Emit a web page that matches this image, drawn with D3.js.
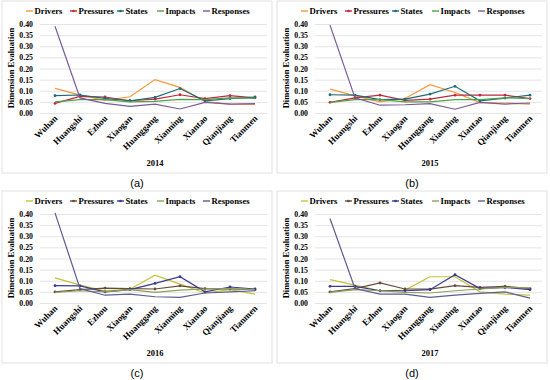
<!DOCTYPE html>
<html>
<head>
<meta charset="utf-8">
<script src="https://cdn.jsdelivr.net/npm/d3@7"></script>
<style>
  body { margin: 0; background: #fff; }
</style>
</head>
<body>
<script>
// cities along x axis
var cities = ["Wuhan", "Huangshi", "Ezhou", "Xiaogan", "Huanggang", "Xianning", "Xiantao", "Qianjiang", "Tianmen"];
var seriesNames = ["Drivers", "Pressures", "States", "Impacts", "Responses"];
var yTicks = [0, 0.05, 0.10, 0.15, 0.20, 0.25, 0.30, 0.35, 0.40];
var years = ["2014", "2015", "2016", "2017"];
var captions = ["(a)", "(b)", "(c)", "(d)"];

// values, one array per series per year
var drivers2014 = [0.111, 0.080, 0.057, 0.073, 0.150, 0.115, 0.051, 0.040, 0.039];
var pressures2014 = [0.043, 0.075, 0.072, 0.055, 0.062, 0.082, 0.065, 0.078, 0.068];
var states2014 = [0.078, 0.081, 0.066, 0.055, 0.070, 0.110, 0.055, 0.065, 0.072];
var impacts2014 = [0.050, 0.060, 0.060, 0.050, 0.052, 0.061, 0.060, 0.068, 0.066];
var responses2014 = [0.390, 0.068, 0.043, 0.030, 0.040, 0.018, 0.048, 0.040, 0.042];

var drivers2015 = [0.107, 0.077, 0.050, 0.065, 0.127, 0.092, 0.047, 0.045, 0.040];
var pressures2015 = [0.048, 0.068, 0.080, 0.057, 0.062, 0.080, 0.080, 0.080, 0.065];
var states2015 = [0.082, 0.080, 0.060, 0.062, 0.085, 0.120, 0.055, 0.067, 0.080];
var impacts2015 = [0.048, 0.060, 0.060, 0.050, 0.050, 0.060, 0.060, 0.068, 0.065];
var responses2015 = [0.395, 0.068, 0.035, 0.037, 0.042, 0.017, 0.048, 0.040, 0.045];

var drivers2016 = [0.113, 0.080, 0.055, 0.062, 0.125, 0.085, 0.045, 0.060, 0.040];
var pressures2016 = [0.050, 0.060, 0.067, 0.065, 0.063, 0.077, 0.065, 0.063, 0.060];
var states2016 = [0.078, 0.077, 0.050, 0.060, 0.088, 0.118, 0.050, 0.072, 0.063];
var impacts2016 = [0.048, 0.055, 0.050, 0.060, 0.048, 0.058, 0.063, 0.065, 0.060];
var responses2016 = [0.405, 0.065, 0.035, 0.040, 0.028, 0.025, 0.045, 0.050, 0.055];

var drivers2017 = [0.105, 0.080, 0.055, 0.058, 0.118, 0.118, 0.050, 0.040, 0.035];
var pressures2017 = [0.050, 0.065, 0.090, 0.063, 0.062, 0.078, 0.070, 0.075, 0.065];
var states2017 = [0.075, 0.075, 0.055, 0.055, 0.060, 0.127, 0.065, 0.070, 0.060];
var impacts2017 = [0.048, 0.060, 0.055, 0.048, 0.045, 0.055, 0.063, 0.070, 0.068];
var responses2017 = [0.380, 0.065, 0.040, 0.040, 0.025, 0.035, 0.043, 0.050, 0.022];

var panelData = [
  [drivers2014, pressures2014, states2014, impacts2014, responses2014],
  [drivers2015, pressures2015, states2015, impacts2015, responses2015],
  [drivers2016, pressures2016, states2016, impacts2016, responses2016],
  [drivers2017, pressures2017, states2017, impacts2017, responses2017]
];

// two colour sets: top row and bottom row
var colorsTop = ["#f5973a", "#c0283f", "#1d6a78", "#4ea34a", "#7a5a98"];
var colorsBottom = ["#c4c23a", "#6b4a3c", "#3b3a8c", "#8aa25a", "#5c5c92"];
var hasMarker = [false, true, true, false, false];

var serif = "'Liberation Serif', 'Times New Roman', serif";

var svg = d3.select("body").append("svg")
    .attr("width", 550)
    .attr("height", 380)
    .attr("font-family", serif);

var x = d3.scalePoint().domain(cities).range([55, 255]);
var y = d3.scaleLinear().domain([0, 0.4]).range([113, 24]);

var legendX = [26, 70, 117, 157, 203];

panelData.forEach(function(series, i) {
  var px = (i % 2) * 275, py = Math.floor(i / 2) * 190;
  var colors = i < 2 ? colorsTop : colorsBottom;
  var g = svg.append("g").attr("transform", "translate(" + px + "," + py + ")");

  g.append("rect")
    .attr("x", 2).attr("y", 1)
    .attr("width", 270).attr("height", 172)
    .attr("fill", "#fff")
    .attr("stroke", "#d9d9d9")
    .attr("stroke-width", 0.8);

  // gridlines + y labels
  var yAxis = g.append("g")
    .attr("transform", "translate(40,0)")
    .call(d3.axisLeft(y).tickValues(yTicks).tickFormat(d3.format(".2f")).tickSize(-227).tickPadding(7));
  yAxis.attr("font-family", serif).attr("font-size", null);
  yAxis.select(".domain").remove();
  yAxis.selectAll("line").attr("stroke", "#d9d9d9").attr("stroke-width", 0.7);
  yAxis.selectAll("text")
    .attr("font-size", "7.8px").attr("font-weight", "bold").attr("fill", "#000");

  // x labels, rotated
  g.append("g").selectAll("text")
    .data(cities)
    .enter().append("text")
    .attr("transform", function(d) { return "translate(" + (x(d) + 3) + ",119) rotate(-45)"; })
    .attr("text-anchor", "end")
    .attr("font-size", "9px")
    .attr("font-weight", "bold")
    .text(function(d) { return d; });

  g.append("text")
    .attr("x", 155).attr("y", 166)
    .attr("text-anchor", "middle")
    .attr("font-size", "8.5px").attr("font-weight", "bold")
    .text(years[i]);

  g.append("text")
    .attr("transform", "translate(14,68) rotate(-90)")
    .attr("text-anchor", "middle")
    .attr("font-size", "8.5px").attr("font-weight", "bold")
    .text("Dimension Evaluation");

  var line = d3.line()
    .x(function(d, j) { return x(cities[j]); })
    .y(function(d) { return y(d); });

  series.forEach(function(vals, k) {
    g.append("path")
      .datum(vals)
      .attr("fill", "none")
      .attr("stroke", colors[k])
      .attr("stroke-width", 1.2)
      .attr("d", line);
    if (hasMarker[k]) {
      g.append("g").selectAll("circle")
        .data(vals)
        .enter().append("circle")
        .attr("cx", function(d, j) { return x(cities[j]); })
        .attr("cy", function(d) { return y(d); })
        .attr("r", 1.4)
        .attr("fill", colors[k]);
    }
  });

  // legend
  var leg = g.append("g").attr("class", "legend");
  seriesNames.forEach(function(name, k) {
    var lx = legendX[k];
    leg.append("line")
      .attr("x1", lx).attr("x2", lx + 7)
      .attr("y1", 11).attr("y2", 11)
      .attr("stroke", colors[k]).attr("stroke-width", 1.4);
    if (hasMarker[k]) {
      leg.append("circle").attr("cx", lx + 3.5).attr("cy", 11).attr("r", 1.3).attr("fill", colors[k]);
    }
    leg.append("text")
      .attr("x", lx + 8.5).attr("y", 14)
      .attr("font-size", "8.7px").attr("font-weight", "bold")
      .text(name);
  });

  svg.append("text")
    .attr("x", px + 137).attr("y", py + 187)
    .attr("text-anchor", "middle")
    .attr("font-size", "11px")
    .attr("font-family", "'Liberation Sans', Arial, sans-serif")
    .text(captions[i]);
});
</script>
</body>
</html>
